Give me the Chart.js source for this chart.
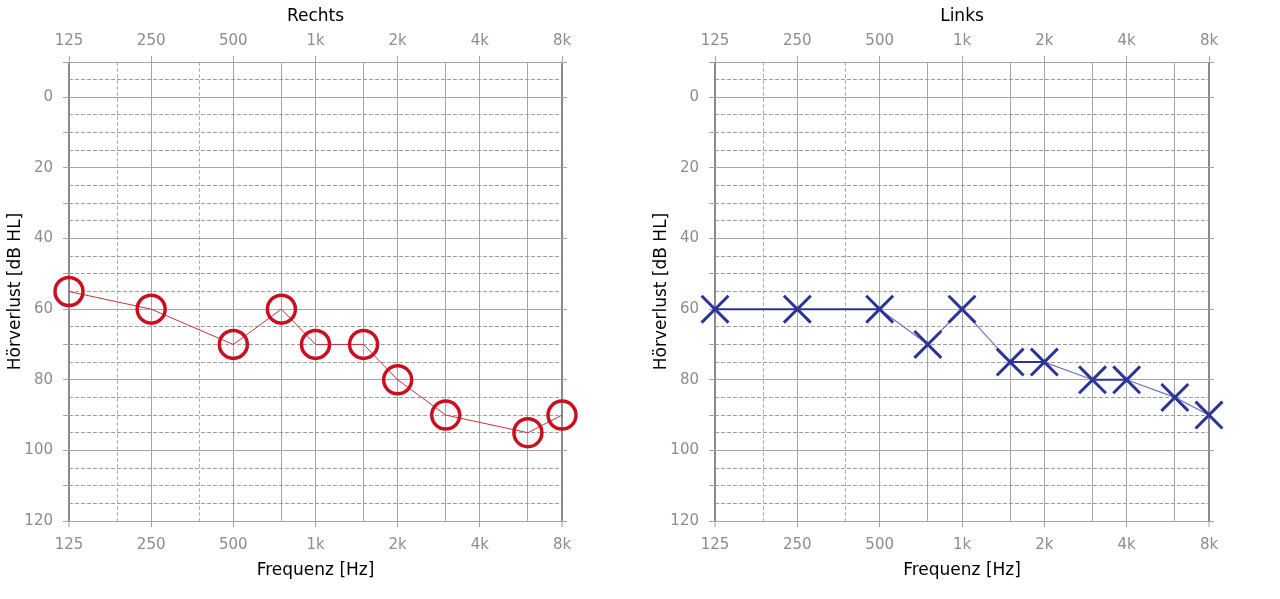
<!DOCTYPE html>
<html>
<head>
<meta charset="utf-8">
<script src="https://cdn.jsdelivr.net/npm/chart.js@4"></script>
<style>
  body { margin: 0; background: #fff; width: 1280px; height: 599px; overflow: hidden; position: relative; }
  .box { position: absolute; top: 0; height: 599px; }
</style>
</head>
<body>
<div class="box" style="left:0;width:640px"><canvas id="rechts"></canvas></div>
<div class="box" style="left:646px;width:634px"><canvas id="links"></canvas></div>
<script>
// axis ticks
var freqTicks = [125, 250, 500, 1000, 2000, 4000, 8000];
var freqLabels = ['125', '250', '500', '1k', '2k', '4k', '8k'];
var freqGrid = [125, 250, 500, 750, 1000, 1500, 2000, 3000, 4000, 6000, 8000];
var freqDashed = [187.5, 375];
var dbTicks = [-10, -5, 0, 5, 10, 15, 20, 25, 30, 35, 40, 45, 50, 55, 60, 65, 70, 75, 80, 85, 90, 95, 100, 105, 110, 115, 120];
var dbLabels = [0, 20, 40, 60, 80, 100, 120];

// right ear
var rechtsFreq = [125, 250, 500, 750, 1000, 1500, 2000, 3000, 6000, 8000];
var rechtsDb = [55, 60, 70, 60, 70, 70, 80, 90, 95, 90];

// left ear
var linksFreq = [125, 250, 500, 750, 1000, 1500, 2000, 3000, 4000, 6000, 8000];
var linksDb = [60, 60, 60, 70, 60, 75, 75, 80, 80, 85, 90];

var tickFont = { family: 'DejaVu Sans', size: 15 };
var titleFont = { family: 'DejaVu Sans', size: 17 };
var tickColor = '#8c8c8c';
var gridSolid = '#a4a4a4';
var none = 'rgba(0,0,0,0)';

function freqLabel(v) {
  var i = freqTicks.indexOf(v);
  return i < 0 ? '' : freqLabels[i];
}
function isMajorDb(v) {
  return v % 20 === 0 || v === -10;
}
function setTicks(list) {
  return function (scale) {
    scale.ticks = list.slice().sort(function (a, b) { return a - b; }).map(function (v) { return { value: v }; });
  };
}

function showAudiogram(id, title, freqs, dbs, opts) {
  var ctx = document.getElementById(id);
  var points = freqs.map(function (f, i) { return { x: f, y: dbs[i] }; });
  var flat = function (c) { return c.p0.parsed.y === c.p1.parsed.y; };

  return new Chart(ctx, {
    type: 'line',
    data: {
      datasets: [{
        data: points,
        borderColor: opts.lineColor,
        borderWidth: 1,
        pointStyle: opts.pointStyle,
        pointRadius: opts.pointRadius,
        pointBorderWidth: opts.pointBorder,
        pointBorderColor: opts.markColor,
        pointBackgroundColor: none,
        clip: false,
        segment: {
          borderColor: function (c) { return flat(c) ? opts.flatColor : opts.lineColor; },
          borderWidth: function (c) { return flat(c) ? opts.flatWidth : opts.lineWidth; }
        }
      }]
    },
    options: {
      responsive: true,
      maintainAspectRatio: false,
      animation: false,
      events: [],
      layout: { padding: 0 },
      plugins: { legend: { display: false }, tooltip: { enabled: false } },
      scales: {
        x: {
          type: 'logarithmic',
          position: 'bottom',
          min: 125,
          max: 8000,
          bounds: 'data',
          afterBuildTicks: setTicks(freqGrid),
          afterFit: function (s) { s.height = 78; },
          ticks: { callback: freqLabel, autoSkip: false, maxRotation: 0, font: tickFont, color: tickColor, padding: 9 },
          grid: {
            color: function (c) { return (c.tick.value === 125 || c.tick.value === 8000) ? '#8a8a8a' : gridSolid; },
            lineWidth: function (c) { return (c.tick.value === 125 || c.tick.value === 8000) ? 2 : 1; },
            tickColor: function (c) { return freqTicks.indexOf(c.tick.value) >= 0 ? gridSolid : none; },
            tickWidth: 1,
            tickLength: 6
          },
          border: { display: false },
          title: { display: true, text: 'Frequenz [Hz]', font: titleFont, color: '#000', padding: { top: 0, bottom: 18 } }
        },
        xTop: {
          type: 'logarithmic',
          position: 'top',
          min: 125,
          max: 8000,
          bounds: 'data',
          afterBuildTicks: setTicks(freqTicks.concat(freqDashed)),
          afterFit: function (s) { s.height = 62; },
          ticks: { callback: freqLabel, autoSkip: false, maxRotation: 0, font: tickFont, color: tickColor, padding: 6 },
          grid: {
            color: function (c) { return freqDashed.indexOf(c.tick.value) >= 0 ? '#b2b2b2' : none; },
            tickColor: function (c) { return freqTicks.indexOf(c.tick.value) >= 0 ? gridSolid : none; },
            tickLength: 6
          },
          border: { display: false, dash: [4, 2] },
          title: { display: true, text: title, font: titleFont, color: '#000', padding: { top: 6, bottom: 0 } }
        },
        y: {
          type: 'linear',
          position: 'left',
          reverse: true,
          min: -10,
          max: 120,
          afterBuildTicks: setTicks(dbTicks),
          afterFit: function (s) { s.width = 69; },
          ticks: {
            callback: function (v) { return dbLabels.indexOf(v) >= 0 ? String(v) : ''; },
            autoSkip: false, font: tickFont, color: tickColor, padding: 10
          },
          grid: {
            color: function (c) { return isMajorDb(c.tick.value) ? gridSolid : none; },
            tickColor: function (c) { return c.tick.value % 10 === 0 ? gridSolid : none; },
            tickLength: 6
          },
          border: { display: false },
          title: { display: true, text: 'Hörverlust [dB HL]', font: titleFont, color: '#000', padding: { top: 5, bottom: 0 } }
        },
        yRight: {
          type: 'linear',
          position: 'right',
          reverse: true,
          min: -10,
          max: 120,
          afterBuildTicks: setTicks(dbTicks),
          afterFit: function (s) { s.width = opts.rightWidth; },
          ticks: { display: false },
          grid: {
            color: function (c) { return isMajorDb(c.tick.value) ? none : '#9c9c9c'; },
            tickColor: function (c) { return isMajorDb(c.tick.value) ? gridSolid : none; },
            tickLength: 5
          },
          border: { display: false, dash: [4, 2] }
        }
      }
    }
  });
}

showAudiogram('rechts', 'Rechts', rechtsFreq, rechtsDb, {
  pointStyle: 'circle', pointRadius: 14, pointBorder: 3.5, markColor: '#c8101e',
  lineColor: '#c8323a', lineWidth: 1, flatColor: '#c8323a', flatWidth: 1, rightWidth: 78
});

showAudiogram('links', 'Links', linksFreq, linksDb, {
  pointStyle: 'crossRot', pointRadius: 19, pointBorder: 3, markColor: '#2b3595',
  lineColor: '#6f74bf', lineWidth: 1.2, flatColor: '#2b3595', flatWidth: 2, rightWidth: 71
});
</script>
</body>
</html>
